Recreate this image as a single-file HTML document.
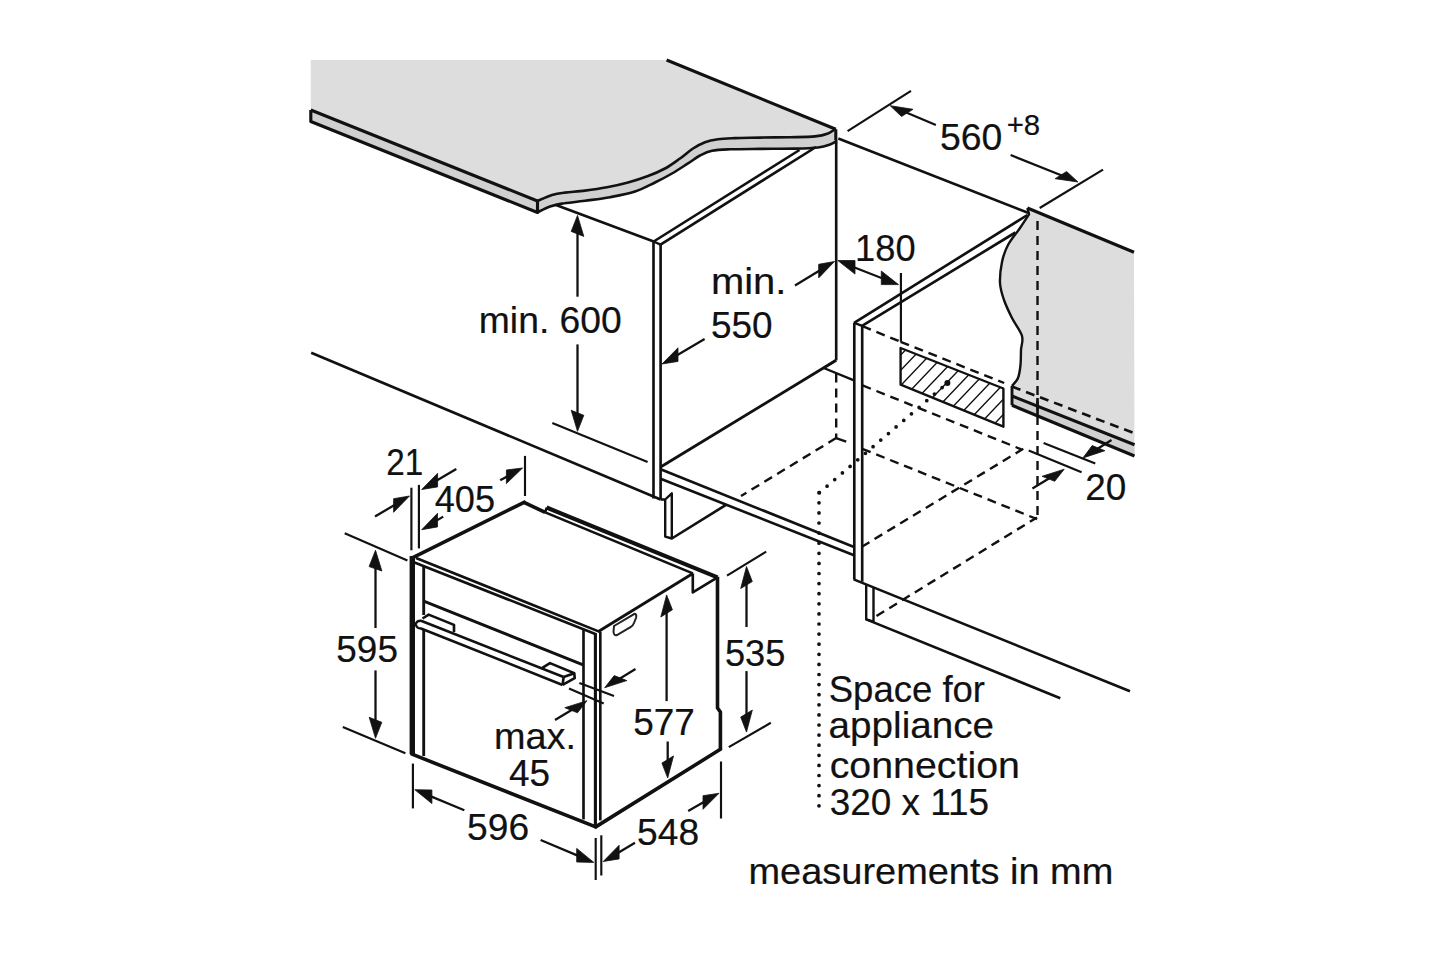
<!DOCTYPE html>
<html><head><meta charset="utf-8"><style>
html,body{margin:0;padding:0;background:#fff;width:1445px;height:963px;overflow:hidden}
svg{display:block}
text{font-family:"Liberation Sans",sans-serif;fill:#111;stroke:#111;stroke-width:0.2px}
</style></head><body>
<svg width="1445" height="963" viewBox="0 0 1445 963" stroke="#111" fill="none">
<path d="M310.8,60 L666.6,60 L835.6,128.8  C834.3,129.6 831.4,132.2 828,133.5 C824.6,134.8 821.3,135.8 815,136.4 C808.7,137.0 799.2,137.0 790,137.2 C780.8,137.4 769.2,137.4 760,137.6 C750.8,137.8 742.0,137.8 735,138.1 C728.0,138.4 723.0,138.5 718,139.2 C713.0,139.9 709.2,140.6 705,142.2 C700.8,143.8 697.2,145.8 693,148.5 C688.8,151.2 684.7,155.2 680,158.5 C675.3,161.8 670.3,165.6 665,168.5 C659.7,171.4 654.2,173.7 648,176 C641.8,178.3 634.8,180.7 628,182.6 C621.2,184.5 614.2,186.0 607,187.3 C599.8,188.6 592.0,189.7 585,190.6 C578.0,191.5 570.5,191.9 565,192.6 C559.5,193.3 556.6,193.6 552,195 C547.4,196.4 539.9,200.0 537.5,201 L310.8,110 Z" fill="#dddddd" stroke="none"/>
<polygon points="310.8,110 537.5,201 537.5,212.5 310.8,121.5" fill="#d0d0d0" stroke="none"/>
<path d="M537.5,212.3 C539.6,211.3 545.9,207.9 550,206.5 C554.1,205.1 556.2,204.5 562,203.6 C567.8,202.7 577.0,201.9 585,200.8 C593.0,199.7 601.7,198.8 610,197.2 C618.3,195.6 627.5,193.9 635,191.5 C642.5,189.1 648.8,185.5 655,182.5 C661.2,179.5 666.5,176.7 672,173.5 C677.5,170.3 683.3,166.4 688,163.4 C692.7,160.4 696.0,157.6 700,155.5 C704.0,153.4 707.0,151.7 712,150.7 C717.0,149.7 722.0,149.6 730,149.3 C738.0,149.0 749.2,149.0 760,148.9 C770.8,148.8 785.3,148.8 795,148.6 C804.7,148.4 812.2,148.2 818,147.5 C823.8,146.8 826.9,145.6 830,144.5 C833.1,143.4 835.6,141.6 836.7,141 L835.6,128.8  C834.3,129.6 831.4,132.2 828,133.5 C824.6,134.8 821.3,135.8 815,136.4 C808.7,137.0 799.2,137.0 790,137.2 C780.8,137.4 769.2,137.4 760,137.6 C750.8,137.8 742.0,137.8 735,138.1 C728.0,138.4 723.0,138.5 718,139.2 C713.0,139.9 709.2,140.6 705,142.2 C700.8,143.8 697.2,145.8 693,148.5 C688.8,151.2 684.7,155.2 680,158.5 C675.3,161.8 670.3,165.6 665,168.5 C659.7,171.4 654.2,173.7 648,176 C641.8,178.3 634.8,180.7 628,182.6 C621.2,184.5 614.2,186.0 607,187.3 C599.8,188.6 592.0,189.7 585,190.6 C578.0,191.5 570.5,191.9 565,192.6 C559.5,193.3 556.6,193.6 552,195 C547.4,196.4 539.9,200.0 537.5,201 Z" fill="#d0d0d0" stroke="none"/>
<line x1="666.6" y1="60" x2="835.8" y2="129.3" stroke-width="3.12" stroke-linecap="butt"/>
<polyline points="310.8,110 537.5,201 537.5,212.5 310.8,121.5 310.8,110" fill="none" stroke-width="3.12" stroke-linejoin="round"/>
<path d="M835.6,128.8 C834.3,129.6 831.4,132.2 828,133.5 C824.6,134.8 821.3,135.8 815,136.4 C808.7,137.0 799.2,137.0 790,137.2 C780.8,137.4 769.2,137.4 760,137.6 C750.8,137.8 742.0,137.8 735,138.1 C728.0,138.4 723.0,138.5 718,139.2 C713.0,139.9 709.2,140.6 705,142.2 C700.8,143.8 697.2,145.8 693,148.5 C688.8,151.2 684.7,155.2 680,158.5 C675.3,161.8 670.3,165.6 665,168.5 C659.7,171.4 654.2,173.7 648,176 C641.8,178.3 634.8,180.7 628,182.6 C621.2,184.5 614.2,186.0 607,187.3 C599.8,188.6 592.0,189.7 585,190.6 C578.0,191.5 570.5,191.9 565,192.6 C559.5,193.3 556.6,193.6 552,195 C547.4,196.4 539.9,200.0 537.5,201" fill="none" stroke-width="2.6"/>
<path d="M537.5,212.3 C539.6,211.3 545.9,207.9 550,206.5 C554.1,205.1 556.2,204.5 562,203.6 C567.8,202.7 577.0,201.9 585,200.8 C593.0,199.7 601.7,198.8 610,197.2 C618.3,195.6 627.5,193.9 635,191.5 C642.5,189.1 648.8,185.5 655,182.5 C661.2,179.5 666.5,176.7 672,173.5 C677.5,170.3 683.3,166.4 688,163.4 C692.7,160.4 696.0,157.6 700,155.5 C704.0,153.4 707.0,151.7 712,150.7 C717.0,149.7 722.0,149.6 730,149.3 C738.0,149.0 749.2,149.0 760,148.9 C770.8,148.8 785.3,148.8 795,148.6 C804.7,148.4 812.2,148.2 818,147.5 C823.8,146.8 826.9,145.6 830,144.5 C833.1,143.4 835.6,141.6 836.7,141" fill="none" stroke-width="2.6"/>
<line x1="835.8" y1="129.3" x2="835.8" y2="140" stroke-width="3.12" stroke-linecap="butt"/>
<line x1="556" y1="205" x2="653.7" y2="241.5" stroke-width="2.64" stroke-linecap="butt"/>
<line x1="653.7" y1="241.5" x2="799.5" y2="150" stroke-width="2.64" stroke-linecap="butt"/>
<line x1="653.5" y1="241.5" x2="660.6" y2="244.6" stroke-width="2.4" stroke-linecap="butt"/>
<line x1="660.5" y1="244.6" x2="816" y2="147" stroke-width="2.64" stroke-linecap="butt"/>
<line x1="653.5" y1="241.5" x2="653.5" y2="498.5" stroke-width="2.64" stroke-linecap="butt"/>
<line x1="660.6" y1="244.6" x2="660.6" y2="499.5" stroke-width="2.64" stroke-linecap="butt"/>
<line x1="836.2" y1="140" x2="836.2" y2="360.3" stroke-width="2.64" stroke-linecap="butt"/>
<line x1="836.2" y1="373.6" x2="836.2" y2="438" stroke-width="2.4" stroke-dasharray="9,6" stroke-linecap="butt"/>
<line x1="311.2" y1="352.8" x2="660.6" y2="499.5" stroke-width="2.64" stroke-linecap="butt"/>
<polyline points="660.6,499.5 665.2,499.5 671.8,493.3 671.8,538.5 665.2,536.6 665.2,499.5" fill="none" stroke-width="2.4" stroke-linejoin="round"/>
<line x1="671.8" y1="538.5" x2="726" y2="504.9" stroke-width="2.64" stroke-linecap="butt"/>
<line x1="660.6" y1="467" x2="836.1" y2="360.3" stroke-width="2.88" stroke-linecap="butt"/>
<polyline points="836.1,360.3 823.7,368 854.6,380.7" fill="none" stroke-width="2.4" stroke-linejoin="round"/>
<line x1="660.6" y1="469.3" x2="854" y2="547" stroke-width="2.64" stroke-linecap="butt"/>
<line x1="660.6" y1="478.7" x2="854" y2="555.3" stroke-width="2.64" stroke-linecap="butt"/>
<line x1="836.1" y1="438.1" x2="741" y2="496" stroke-width="2.4" stroke-dasharray="9,6" stroke-linecap="butt"/>
<line x1="836.1" y1="438.1" x2="846.2" y2="441.6" stroke-width="2.4" stroke-linecap="butt"/>
<line x1="854.3" y1="322.8" x2="854.3" y2="579.4" stroke-width="2.64" stroke-linecap="butt"/>
<line x1="862.2" y1="325.9" x2="862.2" y2="581.7" stroke-width="2.64" stroke-linecap="butt"/>
<line x1="854.1" y1="322.8" x2="1027.4" y2="215" stroke-width="2.64" stroke-linecap="butt"/>
<line x1="854.3" y1="322.8" x2="862.2" y2="325.9" stroke-width="2.4" stroke-linecap="butt"/>
<line x1="862" y1="325.9" x2="1015.4" y2="232.5" stroke-width="2.64" stroke-linecap="butt"/>
<line x1="853.7" y1="579.4" x2="1130" y2="691.3" stroke-width="2.64" stroke-linecap="butt"/>
<polyline points="866.2,584 866.2,619.4 873.5,621.7 873.5,587.4" fill="none" stroke-width="2.4" stroke-linejoin="round"/>
<line x1="866.2" y1="619.4" x2="1060.3" y2="698.2" stroke-width="2.64" stroke-linecap="butt"/>
<path d="M1027.4,208 L1134,252.3 L1134.5,456 L1012,405.3 L1012,386  C1013.0,384.7 1016.6,381.5 1018,378 C1019.4,374.5 1020.0,369.7 1020.5,365 C1021.0,360.3 1020.8,354.8 1021,350 C1021.2,345.2 1023.5,341.3 1022,336 C1020.5,330.7 1015.0,324.0 1012,318 C1009.0,312.0 1006.0,305.8 1004,300 C1002.0,294.2 1000.3,289.3 1000,283 C999.7,276.7 1000.7,268.3 1002,262 C1003.3,255.7 1005.0,250.7 1008,245 C1011.0,239.3 1016.5,233.1 1020,228 C1023.5,222.9 1027.5,216.6 1029,214.3 Z" fill="#dddddd" stroke="none"/>
<polygon points="1012,396 1134.5,444.7 1134.5,456 1012,405.3" fill="#d0d0d0" stroke="none"/>
<line x1="1027.4" y1="208" x2="1134" y2="252.3" stroke-width="3.12" stroke-linecap="butt"/>
<path d="M1027.4,208 L1029,214.3  C1027.5,216.6 1023.5,222.9 1020,228 C1016.5,233.1 1011.0,239.3 1008,245 C1005.0,250.7 1003.3,255.7 1002,262 C1000.7,268.3 999.7,276.7 1000,283 C1000.3,289.3 1002.0,294.2 1004,300 C1006.0,305.8 1009.0,312.0 1012,318 C1015.0,324.0 1020.5,330.7 1022,336 C1023.5,341.3 1021.2,345.2 1021,350 C1020.8,354.8 1021.0,360.3 1020.5,365 C1020.0,369.7 1019.4,374.5 1018,378 C1016.6,381.5 1013.0,384.7 1012,386" fill="none" stroke-width="2.4"/>
<line x1="1012" y1="386" x2="1012" y2="405.3" stroke-width="2.88" stroke-linecap="butt"/>
<line x1="1012" y1="396" x2="1134.5" y2="444.7" stroke-width="3.12" stroke-linecap="butt"/>
<line x1="1012" y1="405.3" x2="1134.5" y2="456" stroke-width="3.12" stroke-linecap="butt"/>
<line x1="1012" y1="386.6" x2="1134.5" y2="433.3" stroke-width="2.64" stroke-dasharray="9,6" stroke-linecap="butt"/>
<line x1="1037.5" y1="398" x2="1037.5" y2="417" stroke-width="2.64" stroke-linecap="butt"/>
<line x1="1037.5" y1="221" x2="1037.5" y2="517.4" stroke-width="2.4" stroke-dasharray="9,6" stroke-linecap="butt"/>
<line x1="862.5" y1="326.2" x2="900.6" y2="341.8" stroke-width="2.4" stroke-dasharray="9,6" stroke-linecap="butt"/>
<line x1="900.6" y1="341.8" x2="1004.2" y2="383" stroke-width="2.4" stroke-dasharray="9,6" stroke-linecap="butt"/>
<line x1="900.9" y1="273" x2="900.9" y2="341.8" stroke-width="2.16" stroke-linecap="butt"/>
<line x1="862.5" y1="385.4" x2="1021.3" y2="449.3" stroke-width="2.4" stroke-dasharray="9,6" stroke-linecap="butt"/>
<line x1="1023.3" y1="448.8" x2="862.3" y2="546.5" stroke-width="2.4" stroke-dasharray="9,6" stroke-linecap="butt"/>
<line x1="862.3" y1="448.8" x2="1037" y2="519.1" stroke-width="2.4" stroke-dasharray="9,6" stroke-linecap="butt"/>
<line x1="876.5" y1="616" x2="1037" y2="517.4" stroke-width="2.4" stroke-dasharray="9,6" stroke-linecap="butt"/>
<line x1="819" y1="492.7" x2="819" y2="815" stroke-width="3.72" stroke-dasharray="0,10.1" stroke-linecap="round"/>
<line x1="819.4" y1="492.7" x2="947.4" y2="383" stroke-width="3.72" stroke-dasharray="0,10.1" stroke-linecap="round"/>
<circle cx="947.4" cy="383" r="3" fill="#111" stroke="none"/>
<clipPath id="hb"><polygon points="900.6,348 1003.4,388.5 1003.4,426.7 900.6,384.6"/></clipPath>
<path d="M890,335.9 L1010,209.9 M890,351.1 L1010,225.1 M890,366.3 L1010,240.3 M890,381.5 L1010,255.5 M890,396.7 L1010,270.7 M890,411.9 L1010,285.9 M890,427.1 L1010,301.1 M890,442.3 L1010,316.3 M890,457.5 L1010,331.5 M890,472.7 L1010,346.7 M890,487.9 L1010,361.9 M890,503.1 L1010,377.1 M890,518.3 L1010,392.3 M890,533.5 L1010,407.5 M890,548.7 L1010,422.7" stroke-width="1.4" clip-path="url(#hb)" fill="none"/>
<polygon points="900.6,348 1003.4,388.5 1003.4,426.7 900.6,384.6" fill="none" stroke-width="2.4" stroke-linejoin="round"/>
<line x1="838.3" y1="138.5" x2="1029.3" y2="213.3" stroke-width="2.64" stroke-linecap="butt"/>
<line x1="847.6" y1="131.2" x2="911" y2="90.8" stroke-width="2.16" stroke-linecap="butt"/>
<line x1="1039.7" y1="208" x2="1103" y2="169.7" stroke-width="2.16" stroke-linecap="butt"/>
<line x1="935.9" y1="125" x2="904.4788705412765" y2="111.73024510824145" stroke-width="2.28" stroke-linecap="butt"/>
<polygon points="890.2,105.7 913.0,109.3 901.5,116.5" fill="#111" stroke="#111" stroke-width="0.8" stroke-linejoin="round"/>
<line x1="1010.6" y1="155" x2="1063.6115577032435" y2="176.2360839464032" stroke-width="2.28" stroke-linecap="butt"/>
<polygon points="1078.0,182.0 1066.6,171.5 1055.1,178.7" fill="#111" stroke="#111" stroke-width="0.8" stroke-linejoin="round"/>
<polygon points="837.8,260.5 855.0,274.1 855.0,260.5" fill="#111" stroke="#111" stroke-width="0.8" stroke-linejoin="round"/>
<polygon points="898.5,284.6 881.3,284.6 881.3,271.0" fill="#111" stroke="#111" stroke-width="0.8" stroke-linejoin="round"/>
<line x1="852" y1="266.5" x2="884" y2="279" stroke-width="2.16" stroke-linecap="butt"/>
<line x1="704.6" y1="339" x2="675.3680402311974" y2="356.15490596760714" stroke-width="2.28" stroke-linecap="butt"/>
<polygon points="662.0,364.0 678.0,361.4 678.0,347.8" fill="#111" stroke="#111" stroke-width="0.8" stroke-linejoin="round"/>
<line x1="795" y1="285.5" x2="821.253450828602" y2="269.5485362054063" stroke-width="2.28" stroke-linecap="butt"/>
<polygon points="834.5,261.5 818.7,277.9 818.7,264.3" fill="#111" stroke="#111" stroke-width="0.8" stroke-linejoin="round"/>
<line x1="577.5" y1="296.7" x2="577.5" y2="230.9" stroke-width="2.28" stroke-linecap="butt"/>
<polygon points="577.5,215.4 583.8,236.4 571.2,231.4" fill="#111" stroke="#111" stroke-width="0.8" stroke-linejoin="round"/>
<line x1="577.5" y1="344.4" x2="577.5" y2="415.8" stroke-width="2.28" stroke-linecap="butt"/>
<polygon points="577.5,431.3 583.8,415.3 571.2,410.3" fill="#111" stroke="#111" stroke-width="0.8" stroke-linejoin="round"/>
<line x1="552.3" y1="422.9" x2="647.6" y2="462.1" stroke-width="2.16" stroke-linecap="butt"/>
<line x1="1043.6" y1="443" x2="1095.3" y2="463.6" stroke-width="2.16" stroke-linecap="butt"/>
<line x1="1028.7" y1="450.5" x2="1081.6" y2="472.3" stroke-width="2.16" stroke-linecap="butt"/>
<line x1="1111.5" y1="440" x2="1096.0181407203356" y2="449.7438275186699" stroke-width="2.28" stroke-linecap="butt"/>
<polygon points="1082.9,458.0 1104.9,450.7 1092.2,445.6" fill="#111" stroke="#111" stroke-width="0.8" stroke-linejoin="round"/>
<line x1="1032.4" y1="488.5" x2="1050.9494733542545" y2="477.2419862975751" stroke-width="2.28" stroke-linecap="butt"/>
<polygon points="1064.2,469.2 1054.7,481.3 1042.1,476.3" fill="#111" stroke="#111" stroke-width="0.8" stroke-linejoin="round"/>
<line x1="412.3" y1="557.9" x2="524" y2="502.4" stroke-width="3.6" stroke-linecap="square"/>
<line x1="524" y1="502.4" x2="545.2" y2="512.4" stroke-width="3.6" stroke-linecap="butt"/>
<line x1="545.2" y1="512.4" x2="546.6" y2="507.5" stroke-width="2.4" stroke-linecap="butt"/>
<line x1="546.6" y1="507.5" x2="717.5" y2="577.4" stroke-width="4.08" stroke-linecap="butt"/>
<line x1="545.2" y1="512.4" x2="692.8" y2="573.4" stroke-width="2.64" stroke-linecap="butt"/>
<polyline points="692.8,573.4 692.8,592.4 717.5,577.4" fill="none" stroke-width="2.64" stroke-linejoin="round"/>
<line x1="598" y1="631.7" x2="692.8" y2="573.4" stroke-width="2.88" stroke-linecap="butt"/>
<polyline points="717.5,576.8 717.5,708 720.4,712 720.4,749.3" fill="none" stroke-width="3.6" stroke-linejoin="round"/>
<line x1="720.4" y1="749.3" x2="595.7" y2="826.9" stroke-width="3.6" stroke-linecap="round"/>
<line x1="412" y1="754.2" x2="595.7" y2="826.9" stroke-width="3.6" stroke-linecap="round"/>
<line x1="412.3" y1="556" x2="412.3" y2="754.2" stroke-width="5.4" stroke-linecap="butt"/>
<line x1="423.7" y1="566" x2="423.7" y2="615" stroke-width="2.88" stroke-linecap="butt"/>
<line x1="423.7" y1="629.5" x2="423.7" y2="756" stroke-width="2.88" stroke-linecap="butt"/>
<line x1="416" y1="558" x2="599.2" y2="631.6" stroke-width="2.64" stroke-linecap="butt"/>
<line x1="414.5" y1="562.5" x2="595.4" y2="634" stroke-width="2.64" stroke-linecap="butt"/>
<line x1="423.7" y1="601.2" x2="583.1" y2="664.8" stroke-width="2.88" stroke-linecap="butt"/>
<line x1="583.5" y1="630" x2="583.5" y2="819.4" stroke-width="2.64" stroke-linecap="butt"/>
<line x1="595.4" y1="633" x2="595.4" y2="826.9" stroke-width="3.12" stroke-linecap="butt"/>
<line x1="600.3" y1="631.6" x2="600.3" y2="820.4" stroke-width="2.64" stroke-linecap="butt"/>
<line x1="421" y1="620.8" x2="563.6" y2="677.1" stroke-width="2.64" stroke-linecap="butt"/>
<line x1="421" y1="628.5" x2="562.6" y2="684.9" stroke-width="2.64" stroke-linecap="butt"/>
<path d="M421.5,620.8 Q415.5,620.5 416,625 Q417,628.7 421.5,628.5" fill="none" stroke-width="2.4"/>
<polyline points="542.3,667.9 550,663.1 574.3,673.3 574.7,678.1 562.6,684.9" fill="none" stroke-width="2.64" stroke-linejoin="round"/>
<line x1="563.6" y1="677.1" x2="574.3" y2="673.3" stroke-width="2.64" stroke-linecap="butt"/>
<line x1="563.6" y1="677.1" x2="562.6" y2="684.9" stroke-width="2.64" stroke-linecap="butt"/>
<polyline points="422.5,618.5 428.7,614.6 454,624.9 454,632" fill="none" stroke-width="2.64" stroke-linejoin="round"/>
<path d="M614,626 L634.5,613.8 Q637,614 636,618 L634,623 Q633,626 630,627.5 L617,635 Q614,636 613.5,632 Z" fill="none" stroke="#222" stroke-width="2"/>
<line x1="411.4" y1="487.7" x2="411.4" y2="550.3" stroke-width="2.16" stroke-linecap="butt"/>
<line x1="418.9" y1="484.9" x2="418.9" y2="548.4" stroke-width="2.16" stroke-linecap="butt"/>
<line x1="375" y1="516.6" x2="396.1918718487568" y2="503.94630260624956" stroke-width="2.28" stroke-linecap="butt"/>
<polygon points="409.5,496.0 393.6,512.3 393.6,498.7" fill="#111" stroke="#111" stroke-width="0.8" stroke-linejoin="round"/>
<line x1="456.3" y1="469" x2="435.0351447742452" y2="481.59911942566396" stroke-width="2.28" stroke-linecap="butt"/>
<polygon points="421.7,489.5 437.6,486.9 437.6,473.3" fill="#111" stroke="#111" stroke-width="0.8" stroke-linejoin="round"/>
<line x1="443.2" y1="516.6" x2="434.93650978201634" y2="521.6349638072367" stroke-width="2.28" stroke-linecap="butt"/>
<polygon points="421.7,529.7 437.5,526.9 437.5,513.3" fill="#111" stroke="#111" stroke-width="0.8" stroke-linejoin="round"/>
<line x1="500.2" y1="480.2" x2="508.98797659921075" y2="475.41369131650123" stroke-width="2.28" stroke-linecap="butt"/>
<polygon points="522.6,468.0 506.4,483.6 506.4,470.0" fill="#111" stroke="#111" stroke-width="0.8" stroke-linejoin="round"/>
<line x1="525" y1="455.9" x2="525" y2="496" stroke-width="2.16" stroke-linecap="butt"/>
<line x1="344.7" y1="533.3" x2="407.4" y2="560.6" stroke-width="2.16" stroke-linecap="butt"/>
<line x1="342.8" y1="727" x2="405.4" y2="753.3" stroke-width="2.16" stroke-linecap="butt"/>
<line x1="375.5" y1="628" x2="375.5" y2="565.8" stroke-width="2.28" stroke-linecap="butt"/>
<polygon points="375.5,550.3 381.9,571.0 369.1,566.6" fill="#111" stroke="#111" stroke-width="0.8" stroke-linejoin="round"/>
<line x1="375.5" y1="670.4" x2="375.5" y2="722.8" stroke-width="2.28" stroke-linecap="butt"/>
<polygon points="375.5,738.3 381.8,722.3 369.2,717.3" fill="#111" stroke="#111" stroke-width="0.8" stroke-linejoin="round"/>
<line x1="412.9" y1="763.6" x2="412.9" y2="808.4" stroke-width="2.16" stroke-linecap="butt"/>
<line x1="595.7" y1="838" x2="595.7" y2="880" stroke-width="2.16" stroke-linecap="butt"/>
<line x1="601.3" y1="835.3" x2="601.3" y2="875.5" stroke-width="2.16" stroke-linecap="butt"/>
<line x1="721" y1="761.5" x2="721" y2="818.5" stroke-width="2.16" stroke-linecap="butt"/>
<line x1="464.3" y1="810.3" x2="429.1102569240967" y2="795.6553796492201" stroke-width="2.28" stroke-linecap="butt"/>
<polygon points="414.8,789.7 431.9,803.6 431.9,790.0" fill="#111" stroke="#111" stroke-width="0.8" stroke-linejoin="round"/>
<line x1="540.6" y1="840" x2="579.5146516853599" y2="856.3851164990989" stroke-width="2.28" stroke-linecap="butt"/>
<polygon points="593.8,862.4 576.7,862.0 576.7,848.4" fill="#111" stroke="#111" stroke-width="0.8" stroke-linejoin="round"/>
<line x1="635" y1="842.8" x2="616.5610603093547" y2="853.6430242834927" stroke-width="2.28" stroke-linecap="butt"/>
<polygon points="603.2,861.5 619.1,858.9 619.1,845.3" fill="#111" stroke="#111" stroke-width="0.8" stroke-linejoin="round"/>
<line x1="688.2" y1="811" x2="705.5610672040464" y2="801.0230230678045" stroke-width="2.28" stroke-linecap="butt"/>
<polygon points="719.0,793.3 703.0,809.3 703.0,795.7" fill="#111" stroke="#111" stroke-width="0.8" stroke-linejoin="round"/>
<line x1="727" y1="575.6" x2="766.2" y2="551.6" stroke-width="2.16" stroke-linecap="butt"/>
<line x1="728.8" y1="747.1" x2="770.8" y2="722.8" stroke-width="2.16" stroke-linecap="butt"/>
<line x1="746.5" y1="627" x2="746.5" y2="582.0" stroke-width="2.28" stroke-linecap="butt"/>
<polygon points="746.5,566.5 752.3,581.5 740.7,588.5" fill="#111" stroke="#111" stroke-width="0.8" stroke-linejoin="round"/>
<line x1="746.5" y1="671.1" x2="746.5" y2="716.6" stroke-width="2.28" stroke-linecap="butt"/>
<polygon points="746.5,732.1 752.3,710.1 740.7,717.1" fill="#111" stroke="#111" stroke-width="0.8" stroke-linejoin="round"/>
<line x1="666.6" y1="701.1" x2="666.6" y2="610.4" stroke-width="2.28" stroke-linecap="butt"/>
<polygon points="666.6,594.9 672.4,609.8 660.8,617.0" fill="#111" stroke="#111" stroke-width="0.8" stroke-linejoin="round"/>
<line x1="667.7" y1="741.5" x2="667.7" y2="762.5" stroke-width="2.28" stroke-linecap="butt"/>
<polygon points="667.7,778.0 673.5,755.9 661.9,763.1" fill="#111" stroke="#111" stroke-width="0.8" stroke-linejoin="round"/>
<line x1="579.4" y1="683" x2="614" y2="696" stroke-width="2.16" stroke-linecap="butt"/>
<line x1="569" y1="688.6" x2="603.7" y2="703.6" stroke-width="2.16" stroke-linecap="butt"/>
<line x1="635.5" y1="669" x2="617.9492064859369" y2="679.6558389192527" stroke-width="2.28" stroke-linecap="butt"/>
<polygon points="604.7,687.7 626.8,680.6 614.2,675.6" fill="#111" stroke="#111" stroke-width="0.8" stroke-linejoin="round"/>
<line x1="555" y1="720" x2="573.7271935483872" y2="708.7051613911291" stroke-width="2.28" stroke-linecap="butt"/>
<polygon points="587.0,700.7 577.5,712.8 564.8,707.7" fill="#111" stroke="#111" stroke-width="0.8" stroke-linejoin="round"/>
<text x="940.01" y="150.0" font-size="37.5" textLength="62.37" lengthAdjust="spacingAndGlyphs" text-anchor="start">560</text>
<text x="1006.69" y="134.8" font-size="29" textLength="33.5" lengthAdjust="spacingAndGlyphs" text-anchor="start">+8</text>
<text x="855.1" y="261.3" font-size="37.5" textLength="60.53" lengthAdjust="spacingAndGlyphs" text-anchor="start">180</text>
<text x="710.97" y="294.3" font-size="37.5" textLength="75.46" lengthAdjust="spacingAndGlyphs" text-anchor="start">min.</text>
<text x="710.93" y="338.0" font-size="37.5" textLength="61.62" lengthAdjust="spacingAndGlyphs" text-anchor="start">550</text>
<text x="478.81" y="333.2" font-size="37.5" textLength="143.03" lengthAdjust="spacingAndGlyphs" text-anchor="start">min. 600</text>
<text x="1085.23" y="499.7" font-size="37.5" textLength="41.06" lengthAdjust="spacingAndGlyphs" text-anchor="start">20</text>
<text x="386.23" y="474.6" font-size="37.5" textLength="37.0" lengthAdjust="spacingAndGlyphs" text-anchor="start">21</text>
<text x="434.74" y="512.0" font-size="37.5" textLength="60.39" lengthAdjust="spacingAndGlyphs" text-anchor="start">405</text>
<text x="336.33" y="661.8" font-size="37.5" textLength="61.62" lengthAdjust="spacingAndGlyphs" text-anchor="start">595</text>
<text x="724.97" y="666.1" font-size="37.5" textLength="60.46" lengthAdjust="spacingAndGlyphs" text-anchor="start">535</text>
<text x="633.23" y="735.4" font-size="37.5" textLength="61.73" lengthAdjust="spacingAndGlyphs" text-anchor="start">577</text>
<text x="493.98" y="748.6" font-size="37.5" textLength="82.01" lengthAdjust="spacingAndGlyphs" text-anchor="start">max.</text>
<text x="509.02" y="786.0" font-size="37.5" textLength="41.08" lengthAdjust="spacingAndGlyphs" text-anchor="start">45</text>
<text x="467.12" y="840.4" font-size="37.5" textLength="62.05" lengthAdjust="spacingAndGlyphs" text-anchor="start">596</text>
<text x="637.12" y="845.4" font-size="37.5" textLength="62.05" lengthAdjust="spacingAndGlyphs" text-anchor="start">548</text>
<text x="828.75" y="702.0" font-size="37.5" textLength="156.25" lengthAdjust="spacingAndGlyphs" text-anchor="start">Space for</text>
<text x="828.64" y="737.6" font-size="37.5" textLength="165.35" lengthAdjust="spacingAndGlyphs" text-anchor="start">appliance</text>
<text x="829.65" y="778.3" font-size="37.5" textLength="190.26" lengthAdjust="spacingAndGlyphs" text-anchor="start">connection</text>
<text x="829.72" y="815.1" font-size="37.5" textLength="159.41" lengthAdjust="spacingAndGlyphs" text-anchor="start">320 x 115</text>
<text x="748.48" y="883.5" font-size="37.5" textLength="364.89" lengthAdjust="spacingAndGlyphs" text-anchor="start">measurements in mm</text>
</svg>
</body></html>
